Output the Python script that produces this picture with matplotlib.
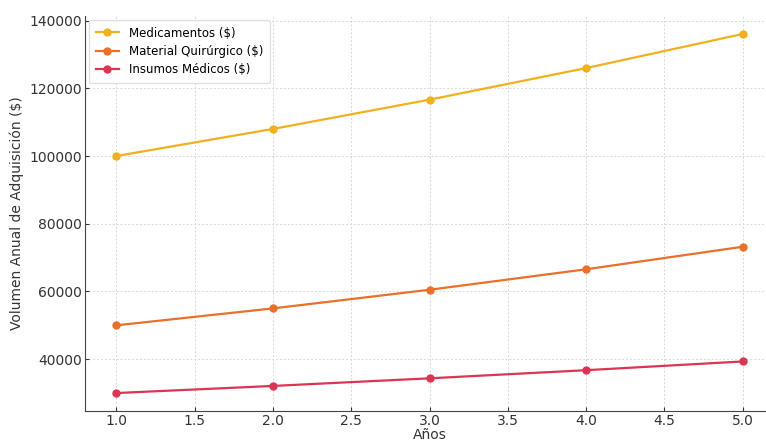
import numpy as np
import matplotlib
matplotlib.use("Agg")
import matplotlib.pyplot as plt

## data
anios = [1, 2, 3, 4, 5]
medicamentos = [100000, 108000, 116640, 125971, 136049]
material_quirurgico = [50000, 55000, 60500, 66550, 73205]
insumos_medicos = [30000, 32100, 34347, 36751, 39324]

fig = plt.figure(figsize=(7.66, 4.44), dpi=100)
# the reference is cropped on the right, so the axes run past the figure edge
ax = fig.add_axes([85/766, 33/444, 689/766, 395/444])

ax.plot(anios, medicamentos, marker='o', markersize=5, lw=1.6,
        color='#f0b020', label='Medicamentos ($)')
ax.plot(anios, material_quirurgico, marker='o', markersize=5, lw=1.6,
        color='#e8702a', label='Material Quirúrgico ($)')
ax.plot(anios, insumos_medicos, marker='o', markersize=5, lw=1.6,
        color='#dc3553', label='Insumos Médicos ($)')

ax.set_xlabel('Años', fontsize=10, labelpad=0, color='#333333')
ax.set_ylabel('Volumen Anual de Adquisición ($)', fontsize=10, color='#333333')
ax.grid(True, linestyle=(0, (2, 2)), color='#d8d8d8', lw=0.7)
ax.tick_params(labelsize=10, colors='#333333', direction='in', length=3, pad=2)
ax.spines['top'].set_visible(False)
ax.spines['right'].set_visible(False)
for s in ('left', 'bottom'):
    ax.spines[s].set_color('#444444')

ax.legend(loc='upper left', fontsize=8.5, frameon=True, framealpha=0.9,
          edgecolor='#dddddd', borderaxespad=0.3, borderpad=0.6,
          labelspacing=0.45)

plt.savefig('out.png', dpi=100)
